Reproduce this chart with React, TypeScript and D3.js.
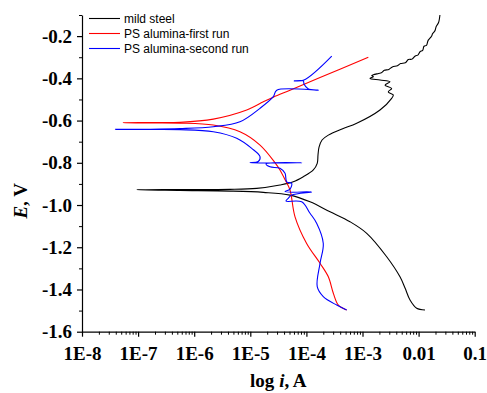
import React, { useEffect, useRef } from 'react';
import * as d3 from 'd3';

// Tafel curves: current in A, potential in V (scan order, cathodic end first)
const steelI = [1.30e-2, 9.25e-3, 7.03e-3, 5.73e-3, 4.66e-3, 2.70e-3, 1.19e-3, 5.98e-4, 2.64e-4, 1.16e-4, 5.1e-5, 1.71e-5, 4.35e-6, 5.58e-7, 9.44e-8,
  5.58e-7, 4.35e-6, 1.30e-5, 3.38e-5, 5.83e-5, 8.81e-5, 1.33e-4, 1.56e-4, 1.61e-4, 1.68e-4, 1.90e-4, 2.46e-4, 4.32e-4, 7.89e-4, 2.05e-3, 3.31e-3, 3.54e-3,
  2.88e-3, 3.31e-3, 2.52e-3, 3.09e-3, 2.05e-3, 1.36e-3,
  1.56e-3, 1.46e-3, 1.93e-3, 2.17e-3, 2.45e-3, 2.95e-3, 3.40e-3, 4.20e-3, 4.78e-3, 5.80e-3, 6.57e-3, 7.64e-3, 8.72e-3, 9.70e-3, 1.07e-2, 1.18e-2, 1.25e-2, 1.38e-2, 1.46e-2, 1.50e-2, 1.70e-2, 1.78e-2, 1.96e-2, 2.06e-2, 2.26e-2, 2.40e-2];
const steelE = [-1.497, -1.489, -1.450, -1.393, -1.340, -1.245, -1.134, -1.079, -1.032, -0.985, -0.953, -0.940, -0.934, -0.931, -0.928,
  -0.927, -0.926, -0.921, -0.905, -0.890, -0.866, -0.834, -0.803, -0.763, -0.726, -0.692, -0.669, -0.640, -0.613, -0.550, -0.495, -0.479,
  -0.464, -0.448, -0.432, -0.416, -0.408, -0.400,
  -0.392, -0.387, -0.377, -0.374, -0.362, -0.358, -0.346, -0.340, -0.330, -0.326, -0.311, -0.309, -0.294, -0.290, -0.273, -0.268, -0.248, -0.244, -0.224, -0.218, -0.201, -0.188, -0.174, -0.154, -0.137, -0.100];

const firstI = [5.22e-4, 3.71e-4, 3.02e-4, 2.46e-4, 1.75e-4, 1.01e-4, 6.27e-5, 5.1e-5, 4.2e-5, 3.38e-5, 2.75e-5, 1.49e-5, 6.54e-6, 2.19e-6, 5.58e-7, 1.63e-7, 5.44e-8,
  1.63e-7, 5.58e-7, 2.19e-6, 8.63e-6, 1.71e-5, 2.57e-5, 5.1e-5, 1.75e-4, 1.27e-3];
const firstE = [-1.497, -1.474, -1.418, -1.340, -1.276, -1.182, -1.056, -0.929, -0.882, -0.834, -0.799, -0.716, -0.653, -0.621, -0.612, -0.611, -0.610,
  -0.609, -0.608, -0.593, -0.550, -0.511, -0.489, -0.456, -0.396, -0.300];

const secondI = [5.22e-4, 3.47e-4, 2.0e-4, 1.56e-4, 1.75e-4, 2.0e-4, 1.53e-4, 1.16e-4, 8.24e-5, 4.32e-5, 4.75e-5, 5.47e-5, 1.24e-4, 4.16e-5, 5.1e-5, 5.47e-5, 4.46e-5, 4.16e-5, 3.38e-5, 2.24e-5, 1.91e-5, 8.24e-5, 9.9e-6,
  1.39e-5, 1.49e-5, 1.06e-5, 5.73e-6, 2.19e-6, 5.58e-7, 1.63e-7, 3.93e-8,
  1.63e-7, 5.58e-7, 2.19e-6, 6.54e-6, 1.49e-5, 2.57e-5, 2.96e-5, 1.63e-4, 1.07e-4, 9.06e-5, 8.81e-5, 6.08e-5, 9.06e-5, 2.83e-4];
const secondE = [-1.497, -1.474, -1.434, -1.387, -1.276, -1.182, -1.087, -1.039, -0.985, -0.981, -0.968, -0.953, -0.938, -0.937, -0.925, -0.897, -0.890, -0.850, -0.826, -0.819, -0.805, -0.800, -0.800,
  -0.794, -0.771, -0.732, -0.684, -0.653, -0.643, -0.642, -0.6415,
  -0.641, -0.638, -0.629, -0.606, -0.542, -0.487, -0.456, -0.456, -0.449, -0.427, -0.412, -0.412, -0.408, -0.295];

const seriesNames = ['mild steel', 'PS alumina-first run', 'PS alumina-second run'];
const seriesColors = ['#000000', '#ff0000', '#0000ff'];

const xTickValues = [1e-8, 1e-7, 1e-6, 1e-5, 1e-4, 1e-3, 1e-2, 1e-1];
const xTickLabels = ['1E-8', '1E-7', '1E-6', '1E-5', '1E-4', '1E-3', '0.01', '0.1'];
const yTickValues = [-0.2, -0.4, -0.6, -0.8, -1.0, -1.2, -1.4, -1.6];
const yTickLabels = ['-0.2', '-0.4', '-0.6', '-0.8', '-1.0', '-1.2', '-1.4', '-1.6'];

const W = 487;
const H = 393;

export default function App() {
  const svgRef = useRef<SVGSVGElement>(null);

  useEffect(() => {
    if (!svgRef.current) return;
    const svg = d3.select(svgRef.current);
    svg.selectAll('*').remove();

    const margin = { top: 15, right: 12.3, bottom: 61.3, left: 82 };
    const innerW = W - margin.left - margin.right;
    const innerH = H - margin.top - margin.bottom;

    const x = d3.scaleLog().domain([1e-8, 0.1]).range([0, innerW]);
    const y = d3.scaleLinear().domain([-1.6, -0.1]).range([innerH, 0]);

    const g = svg.append('g').attr('transform', `translate(${margin.left}, ${margin.top})`);

    const serif = '"Liberation Serif", "Times New Roman", serif';

    // minor ticks
    const xMinor: number[] = [];
    for (let e = -8; e < -1; e++) {
      for (let k = 2; k <= 9; k++) xMinor.push(k * Math.pow(10, e));
    }
    g.append('g')
      .attr('transform', `translate(0, ${innerH})`)
      .call(d3.axisBottom(x).tickValues(xMinor).tickSize(3).tickFormat(() => ''))
      .call(s => s.select('.domain').remove())
      .call(s => s.selectAll('.tick line').attr('stroke', '#000'));

    const yMinor = d3.range(-1.5, -0.05, 0.2);
    g.append('g')
      .call(d3.axisLeft(y).tickValues(yMinor).tickSize(3).tickFormat(() => ''))
      .call(s => s.select('.domain').remove())
      .call(s => s.selectAll('.tick line').attr('stroke', '#000'));

    // X axis
    g.append('g')
      .attr('transform', `translate(0, ${innerH})`)
      .call(d3.axisBottom(x).tickValues(xTickValues).tickSize(5).tickSizeOuter(0)
        .tickFormat((_, i) => xTickLabels[i]))
      .call(s => s.select('.domain').attr('stroke', '#000').attr('stroke-width', 1.2))
      .call(s => s.selectAll('.tick line').attr('stroke', '#000').attr('stroke-width', 1.2))
      .call(s => s.selectAll('.tick text').attr('fill', '#000').attr('font-family', serif)
        .attr('font-weight', 'bold').attr('font-size', '19px').attr('dy', '1.05em'));

    // Y axis
    g.append('g')
      .call(d3.axisLeft(y).tickValues(yTickValues).tickSize(5).tickSizeOuter(0)
        .tickFormat((_, i) => yTickLabels[i]))
      .call(s => s.select('.domain').attr('stroke', '#000').attr('stroke-width', 1.2))
      .call(s => s.selectAll('.tick line').attr('stroke', '#000').attr('stroke-width', 1.2))
      .call(s => s.selectAll('.tick text').attr('fill', '#000').attr('font-family', serif)
        .attr('font-weight', 'bold').attr('font-size', '19px').attr('dx', '-2px'));

    // curves
    const line = d3.line<[number, number]>()
      .x(d => x(d[0]))
      .y(d => y(d[1]))
      .curve(d3.curveCatmullRom.alpha(0.5));

    const seriesData: [number, number][][] = [
      steelI.map((v, i) => [v, steelE[i]]),
      firstI.map((v, i) => [v, firstE[i]]),
      secondI.map((v, i) => [v, secondE[i]]),
    ];

    seriesData.forEach((pts, i) => {
      g.append('path')
        .datum(pts)
        .attr('fill', 'none')
        .attr('stroke', seriesColors[i])
        .attr('stroke-width', 1.1)
        .attr('stroke-linejoin', 'round')
        .attr('d', line);
    });

    // legend
    const legend = svg.append('g').attr('transform', 'translate(89, 18.5)');
    seriesNames.forEach((name, i) => {
      const row = legend.append('g').attr('transform', `translate(0, ${i * 15})`);
      row.append('line').attr('x1', 0).attr('x2', 31).attr('stroke', seriesColors[i]).attr('stroke-width', 1.1);
      row.append('text')
        .attr('x', 35)
        .attr('dy', '0.35em')
        .attr('font-family', '"Liberation Sans", Arial, sans-serif')
        .attr('font-size', '12px')
        .attr('fill', '#000')
        .text(name);
    });

    // axis titles
    const yTitle = svg.append('text')
      .attr('transform', `translate(27, ${margin.top + y(-0.98)}) rotate(-90)`)
      .attr('text-anchor', 'middle')
      .attr('font-family', serif)
      .attr('font-weight', 'bold')
      .attr('font-size', '19px');
    yTitle.append('tspan').attr('font-style', 'italic').text('E');
    yTitle.append('tspan').text(', V');

    const xTitle = svg.append('text')
      .attr('x', margin.left + innerW / 2)
      .attr('y', 387)
      .attr('text-anchor', 'middle')
      .attr('font-family', serif)
      .attr('font-weight', 'bold')
      .attr('font-size', '19px');
    xTitle.append('tspan').text('log ');
    xTitle.append('tspan').attr('font-style', 'italic').text('i');
    xTitle.append('tspan').text(', A');
  }, []);

  return (
    <svg ref={svgRef} width={W} height={H}
      style={{ position: 'absolute', left: 0, top: 0, background: '#fff' }} />
  );
}
